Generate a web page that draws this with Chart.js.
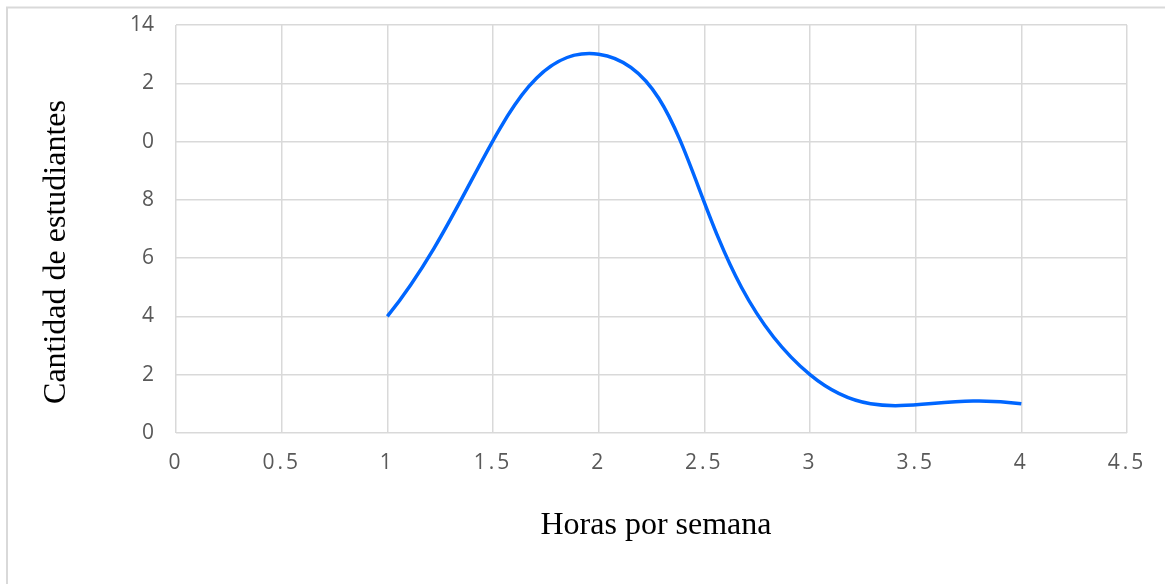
<!DOCTYPE html>
<html><head><meta charset="utf-8">
<script src="https://cdn.jsdelivr.net/npm/chart.js@4.4.0/dist/chart.umd.min.js"></script>
<style>html,body{margin:0;padding:0;background:#fff;overflow:hidden}</style>
</head><body>
<canvas id="c" width="1165" height="584" style="display:block;width:1165px;height:584px"></canvas>
<script>
const hours = [1, 2, 3, 4];
const students = [4, 13, 2, 1];
const xTickLabels = ['0', '0.5', '1', '1.5', '2', '2.5', '3', '3.5', '4', '4.5'];
const yTickLabels = ['0', '2', '4', '6', '8', '0', '2', '14'];
const xTitle = 'Horas por semana';
const yTitle = 'Cantidad de estudiantes';

const gridColor = '#d9d9d9';
const tickColor = '#595959';
const tickFont = {family: "'Open Sans', sans-serif", size: 21};
const titleFont = {family: "'Liberation Serif', 'Times New Roman', serif", size: 32};

const deco = {
  id: 'deco',
  beforeDraw(chart) {
    const ctx = chart.ctx;
    ctx.save();
    ctx.strokeStyle = gridColor;
    ctx.lineWidth = 2;
    ctx.strokeRect(7, 7.5, 1200, 620);
    ctx.restore();
  },
  afterLayout(chart) {
    const y = chart.scales.y;
    y.top += 23; y.bottom += 23;
    const x = chart.scales.x;
    x.left += 4.5; x.right += 4.5;
  },
  afterDatasetsDraw(chart) { chart.ctx.letterSpacing = '3px'; },
  afterDraw(chart) { chart.ctx.letterSpacing = '0px'; }
};

new Chart(document.getElementById('c'), {
  type: 'line',
  data: {
    datasets: [{
      data: hours.map((h, i) => ({x: h, y: students[i]})),
      borderColor: '#0066ff',
      borderWidth: 3.5,
      pointRadius: 0,
      tension: 0.45,
      fill: false
    }]
  },
  options: {
    responsive: false,
    animation: false,
    events: [],
    plugins: {legend: {display: false}, tooltip: {enabled: false}},
    layout: {padding: {left: 0, top: 25, right: 38, bottom: 0}},
    scales: {
      x: {
        type: 'linear', min: 0, max: 4.5,
        ticks: {stepSize: 0.5, autoSkip: false, maxRotation: 0, color: tickColor, font: tickFont, padding: 0, z: 1,
          callback: (v, i) => xTickLabels[i]},
        grid: {color: gridColor, lineWidth: 1.5, drawTicks: true, tickLength: 17, tickColor: 'rgba(0,0,0,0)'},
        border: {display: false},
        title: {display: true, text: xTitle, color: '#000', font: titleFont, padding: {top: 0, bottom: 39}},
        afterFit: s => { s.height = 151; }
      },
      y: {
        type: 'linear', min: 0, max: 14,
        ticks: {stepSize: 2, autoSkip: false, color: tickColor, font: tickFont, padding: 0,
          callback: (v, i) => yTickLabels[i]},
        grid: {color: gridColor, lineWidth: 1.5, drawTicks: true, tickLength: 22, tickColor: 'rgba(0,0,0,0)'},
        border: {display: false},
        title: {display: true, text: yTitle, color: '#000', font: titleFont, padding: {top: 37, bottom: 0}},
        afterFit: s => { s.width = 176; }
      }
    }
  },
  plugins: [deco]
});
</script>
</body></html>
